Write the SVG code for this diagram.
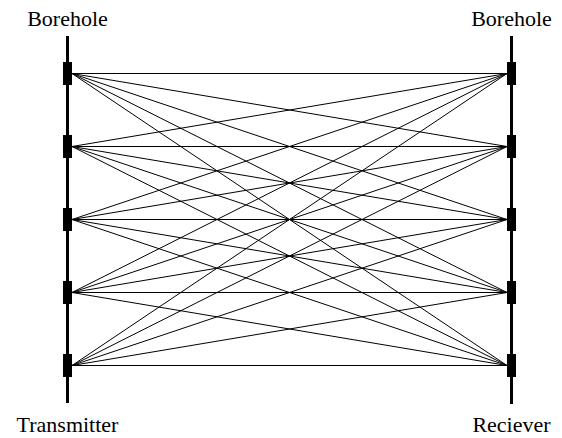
<svg xmlns="http://www.w3.org/2000/svg" width="562" height="438" viewBox="0 0 562 438">
<style>
.bh{stroke:#000;stroke-width:3;fill:none}
.sensor{fill:#000;stroke:none}
.ray{stroke:#000;stroke-width:1;fill:none}
.lbl{font-size:22px;fill:#000;text-anchor:middle}
</style>
<rect width="562" height="438" fill="#fff"/>
<g id="connectors">
<line class="ray" x1="72" y1="73.5" x2="507" y2="73.5"/>
<line class="ray" x1="72" y1="73.5" x2="507" y2="146.5"/>
<line class="ray" x1="72" y1="73.5" x2="507" y2="219.5"/>
<line class="ray" x1="72" y1="73.5" x2="507" y2="292.5"/>
<line class="ray" x1="72" y1="73.5" x2="507" y2="365.5"/>
<line class="ray" x1="72" y1="146.5" x2="507" y2="73.5"/>
<line class="ray" x1="72" y1="146.5" x2="507" y2="146.5"/>
<line class="ray" x1="72" y1="146.5" x2="507" y2="219.5"/>
<line class="ray" x1="72" y1="146.5" x2="507" y2="292.5"/>
<line class="ray" x1="72" y1="146.5" x2="507" y2="365.5"/>
<line class="ray" x1="72" y1="219.5" x2="507" y2="73.5"/>
<line class="ray" x1="72" y1="219.5" x2="507" y2="146.5"/>
<line class="ray" x1="72" y1="219.5" x2="507" y2="219.5"/>
<line class="ray" x1="72" y1="219.5" x2="507" y2="292.5"/>
<line class="ray" x1="72" y1="219.5" x2="507" y2="365.5"/>
<line class="ray" x1="72" y1="292.5" x2="507" y2="73.5"/>
<line class="ray" x1="72" y1="292.5" x2="507" y2="146.5"/>
<line class="ray" x1="72" y1="292.5" x2="507" y2="219.5"/>
<line class="ray" x1="72" y1="292.5" x2="507" y2="292.5"/>
<line class="ray" x1="72" y1="292.5" x2="507" y2="365.5"/>
<line class="ray" x1="72" y1="365.5" x2="507" y2="73.5"/>
<line class="ray" x1="72" y1="365.5" x2="507" y2="146.5"/>
<line class="ray" x1="72" y1="365.5" x2="507" y2="219.5"/>
<line class="ray" x1="72" y1="365.5" x2="507" y2="292.5"/>
<line class="ray" x1="72" y1="365.5" x2="507" y2="365.5"/>
</g>
<g id="borehole-left" font-family="Liberation Serif, Times New Roman, Times, DejaVu Serif, serif">
<line class="bh" x1="67.5" y1="36" x2="67.5" y2="403"/>
<text class="lbl" x="67.5" y="26">Borehole</text>
<text class="lbl" x="67.5" y="432">Transmitter</text>
</g>
<g id="borehole-right" font-family="Liberation Serif, Times New Roman, Times, DejaVu Serif, serif">
<line class="bh" x1="511.5" y1="36" x2="511.5" y2="404"/>
<text class="lbl" x="511.5" y="26">Borehole</text>
<text class="lbl" x="511.5" y="432">Reciever</text>
</g>
<g id="T1"><rect class="sensor" x="63" y="62" width="9" height="23"/></g>
<g id="T2"><rect class="sensor" x="63" y="135" width="9" height="23"/></g>
<g id="T3"><rect class="sensor" x="63" y="208" width="9" height="23"/></g>
<g id="T4"><rect class="sensor" x="63" y="281" width="9" height="23"/></g>
<g id="T5"><rect class="sensor" x="63" y="354" width="9" height="23"/></g>
<g id="R1"><rect class="sensor" x="507" y="62" width="9" height="23"/></g>
<g id="R2"><rect class="sensor" x="507" y="135" width="9" height="23"/></g>
<g id="R3"><rect class="sensor" x="507" y="208" width="9" height="23"/></g>
<g id="R4"><rect class="sensor" x="507" y="281" width="9" height="23"/></g>
<g id="R5"><rect class="sensor" x="507" y="354" width="9" height="23"/></g>
</svg>
